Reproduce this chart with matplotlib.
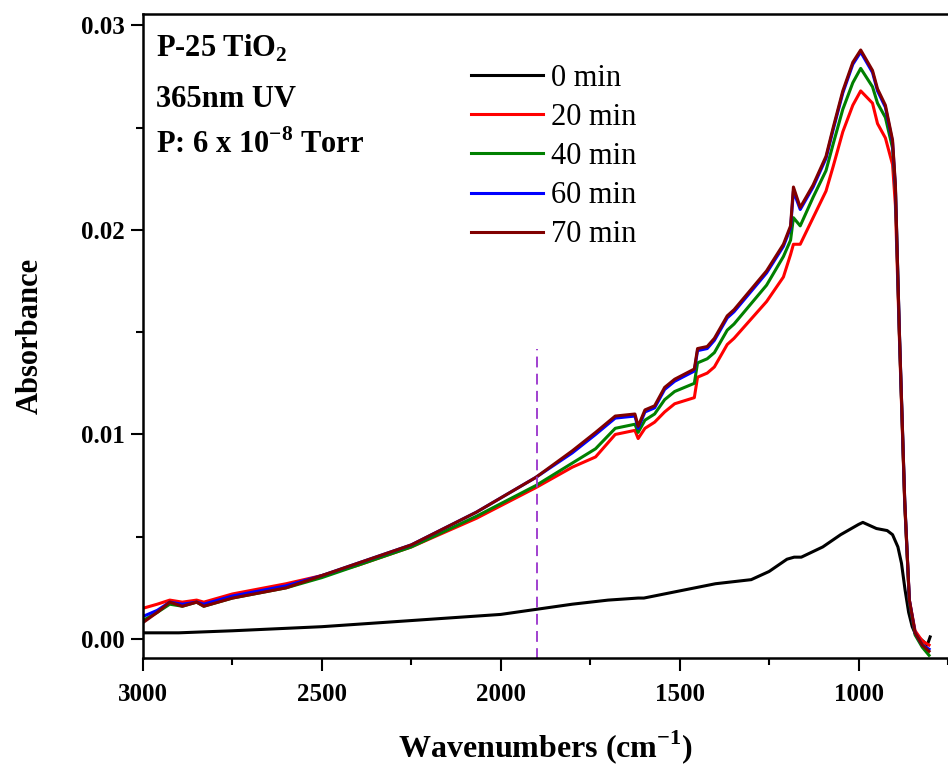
import numpy as np
import matplotlib
matplotlib.use('Agg')
import matplotlib.pyplot as plt

plt.rcParams['font.family'] = ['Liberation Serif', 'DejaVu Serif']
plt.rcParams['mathtext.fontset'] = 'custom'
plt.rcParams['mathtext.rm'] = 'Liberation Serif'
plt.rcParams['mathtext.bf'] = 'Liberation Serif:bold'

# 0 min spectrum
wn_0 = [3000, 2900, 2750, 2500, 2250, 2000, 1800, 1700, 1616, 1600, 1400, 1300, 1250,
        1200, 1180, 1160, 1100, 1050, 1000, 988, 950, 920, 905, 890, 880, 870, 860,
        850, 840, 820, 808, 800]
abs_0 = [0.0003, 0.0003, 0.0004, 0.0006, 0.0009, 0.0012, 0.0017, 0.0019, 0.0020, 0.0020,
         0.0027, 0.0029, 0.0033, 0.0039, 0.0040, 0.0040, 0.0045, 0.0051, 0.0056, 0.0057,
         0.0054, 0.0053, 0.0051, 0.0045, 0.0037, 0.0024, 0.0013, 0.0006, 0.0002, -0.0001,
         -0.0003, 0.0001]

# UV irradiated spectra, shared wavenumber grid
wn = [3000, 2960, 2925, 2890, 2850, 2830, 2750, 2600, 2500, 2400, 2250, 2068, 1902, 1800,
      1735, 1680, 1625, 1616, 1597, 1570, 1542, 1514, 1459, 1450, 1423, 1403, 1367, 1348,
      1257, 1210, 1190, 1182, 1163, 1127, 1091, 1071, 1044, 1016, 994, 961, 947, 925, 905,
      897, 886, 871, 858, 842, 822, 803]
abs_20 = [0.0015, 0.0017, 0.0019, 0.0018, 0.0019, 0.0018, 0.0022, 0.0027, 0.0031, 0.0036,
          0.0045, 0.0059, 0.0074, 0.0084, 0.0089, 0.0100, 0.0102, 0.0098, 0.0103, 0.0106,
          0.0111, 0.0115, 0.0118, 0.0128, 0.0130, 0.0133, 0.0144, 0.0147, 0.0165, 0.0177,
          0.0188, 0.0193, 0.0193, 0.0206, 0.0219, 0.0231, 0.0248, 0.0261, 0.0268, 0.0262,
          0.0252, 0.0245, 0.0232, 0.0212, 0.0148, 0.0066, 0.0019, 0.0004, -0.0001, -0.0003]
abs_40 = [0.0009, 0.0013, 0.0017, 0.0016, 0.0018, 0.0016, 0.0020, 0.0025, 0.0030, 0.0036,
          0.0045, 0.0060, 0.0075, 0.0086, 0.0093, 0.0103, 0.0105, 0.0101, 0.0107, 0.0110,
          0.0117, 0.0121, 0.0125, 0.0135, 0.0137, 0.0140, 0.0151, 0.0154, 0.0173, 0.0187,
          0.0195, 0.0206, 0.0202, 0.0216, 0.0229, 0.0242, 0.0259, 0.0272, 0.0279, 0.0270,
          0.0262, 0.0255, 0.0240, 0.0220, 0.0150, 0.0067, 0.0018, 0.0002, -0.0004, -0.0008]
abs_60 = [0.0011, 0.0014, 0.0018, 0.0017, 0.0018, 0.0017, 0.0021, 0.0026, 0.0031, 0.0037,
          0.0046, 0.0062, 0.0079, 0.0091, 0.0100, 0.0108, 0.0109, 0.0103, 0.0111, 0.0113,
          0.0122, 0.0126, 0.0131, 0.0141, 0.0142, 0.0146, 0.0157, 0.0160, 0.0179, 0.0192,
          0.0201, 0.0219, 0.0210, 0.0221, 0.0235, 0.0249, 0.0267, 0.0281, 0.0287, 0.0277,
          0.0268, 0.0260, 0.0243, 0.0221, 0.0151, 0.0068, 0.0019, 0.0003, -0.0003, -0.0005]
abs_70 = [0.0008, 0.0013, 0.0018, 0.0016, 0.0018, 0.0016, 0.0020, 0.0025, 0.0031, 0.0037,
          0.0046, 0.0062, 0.0079, 0.0092, 0.0101, 0.0109, 0.0110, 0.0104, 0.0112, 0.0114,
          0.0123, 0.0127, 0.0132, 0.0142, 0.0143, 0.0147, 0.0158, 0.0161, 0.0180, 0.0193,
          0.0202, 0.0221, 0.0211, 0.0222, 0.0236, 0.0250, 0.0268, 0.0282, 0.0288, 0.0278,
          0.0269, 0.0261, 0.0244, 0.0222, 0.0151, 0.0068, 0.0019, 0.0003, -0.0003, -0.0006]

labels = ['0 min', '20 min', '40 min', '60 min', '70 min']
colors = ['black', '#FF0000', '#008000', '#0000FF', '#800000']

marker_wn = 1900
marker_top = 0.0142

fig = plt.figure(figsize=(9.48, 7.65), dpi=100)
ax = fig.add_axes([0.1508, 0.1399, 0.8492, 0.8418])

series = [(wn_0, abs_0), (wn, abs_20), (wn, abs_40), (wn, abs_60), (wn, abs_70)]
for (x, y), lab, c in zip(series, labels, colors):
    ax.plot(x, y, color=c, lw=2.2, label=lab)

ax.vlines(marker_wn, -0.001, marker_top, colors='#9932CC', linestyles=(0, (6, 3.5)), lw=1.3)

ax.set_xlim(3000, 772)
ax.set_ylim(-0.00093, 0.03056)
ax.set_xticks([3000, 2500, 2000, 1500, 1000])
ax.set_xticks([2750, 2250, 1750, 1250, 750], minor=True)
ax.set_yticks([0.00, 0.01, 0.02, 0.03])
ax.set_yticks([0.005, 0.015, 0.025], minor=True)
ax.set_yticklabels(['0.00', '0.01', '0.02', '0.03'])
ax.tick_params(which='major', direction='out', length=9, width=1.5, labelsize=18, pad=4)
ax.tick_params(axis='x', which='major', pad=9)
ax.tick_params(which='minor', direction='out', length=5, width=1.5)
for t in ax.get_xticklabels() + ax.get_yticklabels():
    t.set_fontweight('bold')
for s in ax.spines.values():
    s.set_linewidth(1.8)
ax.spines['right'].set_visible(False)

ax.set_xlabel(r'Wavenumbers (cm$^{\mathbf{-1}}$)', fontsize=23, fontweight='bold', labelpad=16)
ax.set_ylabel('Absorbance', fontsize=22, fontweight='bold', labelpad=26)

# sample notes, placed in figure pixels (baselines)
notes = [r'P-25 TiO$_{\mathbf{2}}$', '365nm UV', r'P: 6 x 10$^{\mathbf{-8}}$ Torr']
note_base = [57, 107, 153]
for txt, yb in zip(notes, note_base):
    fig.text(156 / 948, 1 - yb / 765, txt, fontsize=22, fontweight='bold', va='baseline')

leg = ax.legend(loc='upper left', bbox_to_anchor=(471 / 948, 1 - 64 / 765),
                bbox_transform=fig.transFigure, frameon=False, fontsize=22,
                handlelength=2.35, handletextpad=0.26, labelspacing=0.33, borderpad=0,
                borderaxespad=0)

fig.savefig('out.png', dpi=100)
